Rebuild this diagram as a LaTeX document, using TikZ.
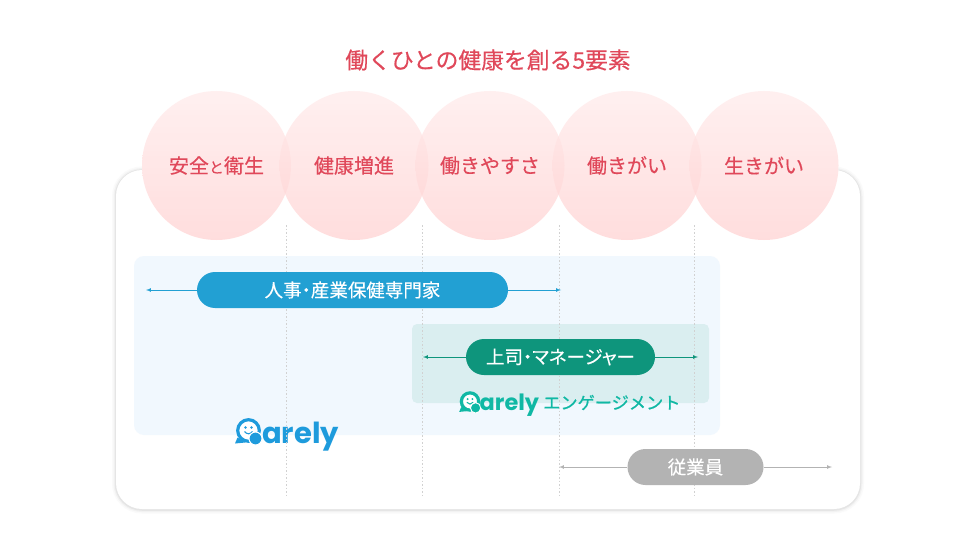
\documentclass[tikz,border=0pt]{standalone}
\usepackage{fontspec}
\setmainfont{Noto Sans CJK JP}
\newfontfamily\medfont[FakeBold=0.35]{Noto Sans CJK JP}
\newfontfamily\heavyfont[FakeBold=0.8]{Noto Sans CJK JP}
\newfontfamily\paltfont[FakeBold=0.2,RawFeature=+palt]{Noto Sans CJK JP}
\newfontfamily\logofont{Poppins}
\definecolor{titlered}{HTML}{E0485A}
\definecolor{careblue}{HTML}{22A0D3}
\definecolor{caregreen}{HTML}{0E957C}
\definecolor{logoblue}{HTML}{1E9BDC}
\definecolor{logogreen}{HTML}{10B8A4}
\definecolor{staffgray}{HTML}{B3B3B3}
\definecolor{areablue}{HTML}{F1F8FE}
\definecolor{areagreen}{HTML}{DAEEF0}
\tikzset{
	backing/.style={circle,minimum size=149pt,inner sep=0pt,fill=white},
	element/.style={circle,minimum size=149pt,inner sep=0pt,top color=red!8,bottom color=red!18,fill opacity=0.72,text opacity=1,text=titlered,font=\medfont\fontsize{20}{20}\selectfont},
	role/.style={rounded corners=18pt,minimum height=36pt,inner sep=0pt,text=white,font=\paltfont\fontsize{18.5}{18.5}\selectfont},
	guide/.style={black!18,line width=0.7pt,dash pattern=on 1.5pt off 2pt},
	span/.style={-latex,line width=0.7pt},
	bubble/.pic={
		\draw[line width=3.2pt,draw=#1,fill=white] (0,0) circle (10.8);
		\fill[#1] (-11,7) -- (-13.5,13) -- (-3,12) -- cycle;
		\fill[#1] (-3,-3) circle (1.3);
		\fill[#1] (3,-3) circle (1.3);
		\draw[#1,line width=1.1pt] (-4,1) .. controls (-2,4) and (2,4) .. (4,1);
		\fill[#1,draw=white,line width=1pt] (7,8) circle (6.5);
	}
}
\begin{document}
\begin{tikzpicture}[x=1pt,y=-1pt]
	\useasboundingbox (0,0) rectangle (960,540);
	\fill[white] (0,0) rectangle (960,540);

	% outer panel
	\draw[black!2,line width=8pt,rounded corners=26pt] (116,170.5) rectangle (860,509.5);
	\draw[black!5,line width=5pt,rounded corners=26pt] (116,170.5) rectangle (860,509.5);
	\draw[black!10,line width=2.5pt,rounded corners=26pt] (116,170.5) rectangle (860,509.5);
	\fill[white,rounded corners=26pt] (116,170) rectangle (860,509);

	\node (title) at (488,60) {\textcolor{titlered}{\medfont\fontsize{22.8}{23}\selectfont 働くひとの健康を創る5要素}};

	% five elements
	\node[backing] (anzenb) at (216.5,165.5) {};
	\node[backing] (kenkob) at (354,165.5) {};
	\node[backing] (yasusab) at (490,165.5) {};
	\node[backing] (gaib) at (627,165.5) {};
	\node[backing] (ikib) at (764,165.5) {};
	\node[element] (anzen) at (216.5,165.5) {安全{\fontsize{15}{15}\selectfont と}衛生};
	\node[element] (kenko) at (354,165.5) {健康増進};
	\node[element] (yasusa) at (490,165.5) {働きやすさ};
	\node[element] (gai) at (627,165.5) {働きがい};
	\node[element] (iki) at (764,165.5) {生きがい};

	% areas
	\fill[areablue,rounded corners=10pt] (134,256) rectangle (720,435);
	\fill[areagreen,rounded corners=5pt] (412,324) rectangle (709,403);

	% logos
	\path (248.5,430.5) pic {bubble=logoblue};
	\node[anchor=base west,inner sep=0pt,text=logoblue,font=\logofont\bfseries\fontsize{29}{30}\selectfont] (carely) at (262,443.5) {arely};
	\path (470,401.5) pic[scale=0.8] {bubble=logogreen};
	\node[anchor=base west,inner sep=0pt,text=logogreen,font=\logofont\bfseries\fontsize{22.4}{23}\selectfont] (engage) at (479.5,410.5) {arely};
	\node[anchor=west,inner sep=0pt,text=logogreen,font=\heavyfont\fontsize{17.2}{18}\selectfont] (engagetext) at (543,402.5) {エンゲージメント};

	% guides
	\coordinate (ga) at (286,225);
	\coordinate (gb) at (422,225);
	\coordinate (gc) at (559,225);
	\coordinate (gd) at (694,225);
	\coordinate (ha) at (286,495);
	\coordinate (hb) at (422,495);
	\coordinate (hc) at (559,495);
	\coordinate (hd) at (694,495);
	\draw[guide] (ga) -- (ha);
	\draw[guide] (gb) -- (hb);
	\draw[guide] (gc) -- (hc);
	\draw[guide] (gd) -- (hd);

	% roles
	\coordinate (hrl) at (146,290);
	\coordinate (hrr) at (561,290);
	\coordinate (mgl) at (423,357);
	\coordinate (mgr) at (698,357);
	\coordinate (stl) at (559,467);
	\coordinate (str) at (832,467);
	\node[role,fill=careblue,minimum width=311pt] (hr) at (352.5,290) {人事・産業保健専門家};
	\node[role,fill=caregreen,minimum width=189pt] (mg) at (560.5,357) {上司・マネージャー};
	\node[role,fill=staffgray,minimum width=136pt] (st) at (695.5,467) {従業員};
	\draw[span,careblue] (hr) -- (hrl);
	\draw[span,careblue] (hr) -- (hrr);
	\draw[span,caregreen] (mg) -- (mgl);
	\draw[span,caregreen] (mg) -- (mgr);
	\draw[span,staffgray] (st) -- (stl);
	\draw[span,staffgray] (st) -- (str);
\end{tikzpicture}
\end{document}
